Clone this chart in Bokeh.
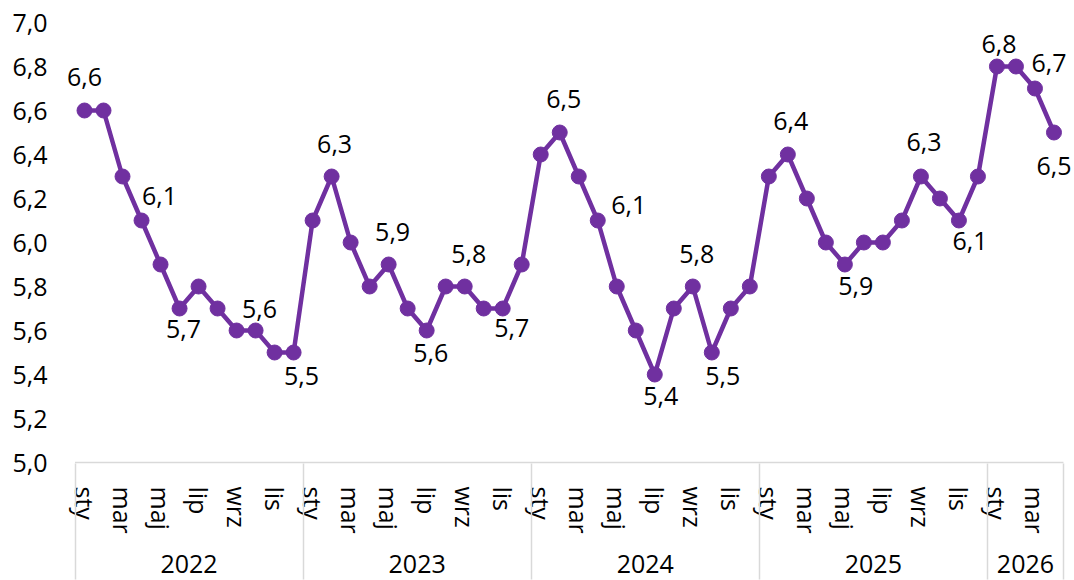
from bokeh.plotting import figure
from bokeh.models import (Range1d, FixedTicker, CustomJSTickFormatter, ColumnDataSource,
                          LabelSet, LinearAxis)
from bokeh.core.properties import value
from bokeh.embed import file_html
from bokeh.resources import INLINE

# ---- data ----
months = ["sty", "lut", "mar", "kwi", "maj", "cze", "lip", "sie", "wrz", "paź", "lis", "gru"]
years = ["2022", "2023", "2024", "2025", "2026"]
months_per_year = [12, 12, 12, 12, 4]
values_2022 = [6.6, 6.6, 6.3, 6.1, 5.9, 5.7, 5.8, 5.7, 5.6, 5.6, 5.5, 5.5]
values_2023 = [6.1, 6.3, 6.0, 5.8, 5.9, 5.7, 5.6, 5.8, 5.8, 5.7, 5.7, 5.9]
values_2024 = [6.4, 6.5, 6.3, 6.1, 5.8, 5.6, 5.4, 5.7, 5.8, 5.5, 5.7, 5.8]
values_2025 = [6.3, 6.4, 6.2, 6.0, 5.9, 6.0, 6.0, 6.1, 6.3, 6.2, 6.1, 6.3]
values_2026 = [6.8, 6.8, 6.7, 6.5]
y_ticks = [5.0, 5.2, 5.4, 5.6, 5.8, 6.0, 6.2, 6.4, 6.6, 6.8, 7.0]

# which points carry a data label, and how the label sits relative to its point (px)
label_points = [0, 3, 5, 9, 11, 13, 16, 18, 20, 22, 25, 27, 30, 32, 33, 37, 40, 44, 46, 48, 50, 51]
label_dx = [0, 18, 4, 4, 8, 3, 4, 4, 4, 9, 4, 31, 6, 4, 11, 3, 11, 3, 11, 2, 14, 0]
label_dy = [-34, -25, 20, -22, 23, -33, -33, 22, -33, 19, -34, -16, 21, -33, 23, -34, 21, -35, 20, -23, -26, 33]

vals = values_2022 + values_2023 + values_2024 + values_2025 + values_2026
n = len(vals)
xs = list(range(n))
month_names = [months[i % 12] for i in range(n)]

FONT = "Open Sans"
FS = "25px"
PURPLE = "#7030A0"
GRID = "#D9D9D9"

bounds = [-0.5]
for m in months_per_year:
    bounds.append(bounds[-1] + m)

p = figure(width=1074, height=580, output_backend="svg", toolbar_location=None,
           x_range=Range1d(-1.0, 52.08), y_range=Range1d(7.0 - 442 / 220, 7.0),
           min_border_left=65, min_border_right=0, min_border_top=22, min_border_bottom=116)
p.outline_line_color = None
p.xgrid.visible = False
p.ygrid.visible = False

# y axis
p.yaxis.ticker = FixedTicker(ticks=y_ticks)
p.yaxis.formatter = CustomJSTickFormatter(code="return tick.toFixed(1).replace('.', ',');")
p.yaxis.axis_line_color = None
p.yaxis.major_tick_line_color = None
p.yaxis.minor_tick_line_color = None
p.yaxis.major_tick_out = 0
p.yaxis.major_label_standoff = 18
p.yaxis.major_label_text_font = FONT
p.yaxis.major_label_text_font_size = FS
p.yaxis.major_label_text_color = "black"

# x axis A: month labels every other month
major = [i for i in xs if i % 2 == 0]
ax = p.xaxis[0]
ax.ticker = FixedTicker(ticks=major, minor_ticks=[])
ax.major_label_overrides = {i: month_names[i] for i in major}
ax.major_label_orientation = "vertical"
ax.major_label_standoff = 22
ax.axis_label_standoff = 0
ax.major_label_text_font = FONT
ax.major_label_text_font_size = FS
ax.major_label_text_color = "black"
ax.axis_line_color = None
ax.major_tick_line_color = None
ax.major_tick_out = 0
ax.major_tick_in = 0
ax.minor_tick_line_color = None

# x axis B: year labels at group centres
centers = [(bounds[k] + bounds[k + 1]) / 2 for k in range(len(years))]
ay = LinearAxis(ticker=FixedTicker(ticks=centers, minor_ticks=[]),
                major_label_overrides={c: y for c, y in zip(centers, years)},
                major_label_standoff=18, axis_label_standoff=0, major_label_text_font=FONT,
                major_label_text_font_size=FS, major_label_text_color="black",
                axis_line_color=None, major_tick_line_color=None, minor_tick_line_color=None,
                major_tick_out=0, major_tick_in=0)
p.add_layout(ay, "below")

# x axis C: year boundaries drawn as ticks reaching up to the plot, down to the bottom
asep = LinearAxis(ticker=FixedTicker(ticks=[], minor_ticks=bounds),
                  axis_line_color=None, major_tick_line_color=None,
                  major_tick_out=0, major_tick_in=0, major_label_standoff=0, axis_label_standoff=0,
                  minor_tick_line_color=GRID, minor_tick_line_width=1.5,
                  minor_tick_in=112, minor_tick_out=4)
p.add_layout(asep, "below")

# baseline of the category axis
p.segment(x0=[bounds[0]], y0=[y_ticks[0]], x1=[bounds[-1]], y1=[y_ticks[0]],
          line_color=GRID, line_width=1.5)

# series
src = ColumnDataSource(dict(x=xs, y=vals))
p.line("x", "y", source=src, line_color=PURPLE, line_width=4.5)
p.scatter("x", "y", source=src, size=15, fill_color=PURPLE, line_color=PURPLE)

# data labels
lab_src = ColumnDataSource(dict(
    x=[xs[i] for i in label_points],
    y=[vals[i] for i in label_points],
    t=[("%.1f" % vals[i]).replace(".", ",") for i in label_points],
    dx=label_dx,
    dy=[-d for d in label_dy],
))
p.add_layout(LabelSet(x="x", y="y", text="t", source=lab_src, x_offset="dx", y_offset="dy",
                      text_align="center", text_baseline="middle",
                      text_font=value(FONT), text_font_size=value(FS), text_color="black"))

open("out.html", "w").write(file_html(p, INLINE))
